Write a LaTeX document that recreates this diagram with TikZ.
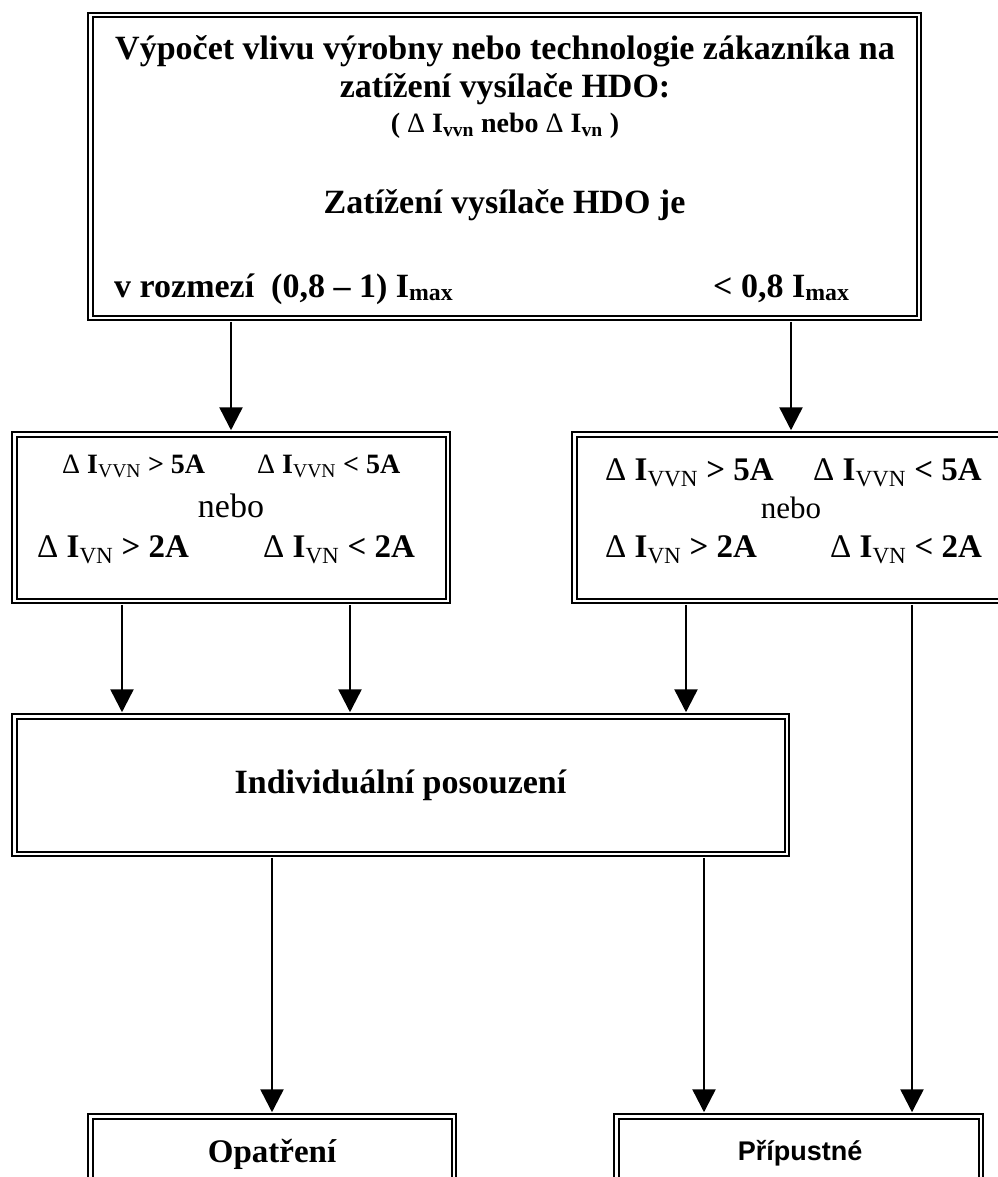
\documentclass[tikz,border=0pt]{standalone}
\usepackage{fontspec}
\setmainfont{Liberation Serif}
\newfontfamily\arialfont{Liberation Sans}
\usetikzlibrary{arrows.meta}
\tikzset{
	box/.style={draw, double, line width=2pt, double distance=2.5pt, inner sep=0pt},
	txt/.style={anchor=base, inner sep=0pt, font=\fontsize{#1}{#1}\selectfont\bfseries},
	word/.style={anchor=base, inner sep=0pt, font=\fontsize{#1}{#1}\selectfont},
	flow/.style={-{Triangle[length=23pt,width=23pt]}, line width=2.5pt, shorten >=3pt, shorten <=3pt}
}
\newcommand{\dlt}{{\mdseries Δ}}
\newcommand{\idxsub}[1]{\textsubscript{\mdseries #1}}

\begin{document}
\begin{tikzpicture}[x=1pt, y=-1pt]

	\useasboundingbox (0,0) rectangle (997,1177);

	% boxes
	\node[box, minimum width=828.5pt, minimum height=302.5pt] (calc) at (504.5,166.5) {};
	\node[box, minimum width=433.5pt, minimum height=166.5pt] (high) at (231,517.5) {};
	\node[box, minimum width=433.5pt, minimum height=166.5pt] (low) at (791,517.5) {};
	\node[box, minimum width=772.5pt, minimum height=137.5pt] (indiv) at (400.5,785) {};
	\node[box, minimum width=363.5pt, minimum height=71.5pt] (measure) at (272,1152) {};
	\node[box, minimum width=364.5pt, minimum height=71.5pt] (allowed) at (798.5,1152) {};

	% texts of the first box
	\node[txt=34] (title1) at (505,60) {Výpočet vlivu výrobny nebo technologie zákazníka na};
	\node[txt=34] (title2) at (505,98) {zatížení vysílače HDO:};
	\node[txt=28] (title3) at (505,133) {( \dlt{} I\textsubscript{vvn} nebo \dlt{} I\textsubscript{vn} )};
	\node[txt=34] (load) at (504.5,213) {Zatížení vysílače HDO je};
	\node[txt=34, anchor=base west] (range) at (114,297) {v rozmezí\ \ (0,8 – 1) I\textsubscript{max}};
	\node[txt=34, anchor=base west] (under) at (713,297) {< 0,8 I\textsubscript{max}};

	\node[txt=28, anchor=base west] (hvvn1) at (62,473) {\dlt{} I\idxsub{VVN} > 5A};
	\node[txt=28, anchor=base west] (hvvn2) at (257,473) {\dlt{} I\idxsub{VVN} < 5A};
	\node[word=34] (hor) at (231,517) {nebo};
	\node[txt=33, anchor=base west] (hvn1) at (37,557) {\dlt{} I\idxsub{VN} > 2A};
	\node[txt=33, anchor=base west] (hvn2) at (263,557) {\dlt{} I\idxsub{VN} < 2A};

	\node[txt=33, anchor=base west] (lvvn1) at (605,480) {\dlt{} I\idxsub{VVN} > 5A};
	\node[txt=33, anchor=base west] (lvvn2) at (813,480) {\dlt{} I\idxsub{VVN} < 5A};
	\node[word=31] (lor) at (791,518) {nebo};
	\node[txt=33, anchor=base west] (lvn1) at (605,557) {\dlt{} I\idxsub{VN} > 2A};
	\node[txt=33, anchor=base west] (lvn2) at (830,557) {\dlt{} I\idxsub{VN} < 2A};

	\node[txt=34] (indivtext) at (400.5,793) {Individuální posouzení};
	\node[txt=33] (measuretext) at (272,1162) {Opatření};
	\node[txt=27, font=\arialfont\fontsize{27}{27}\selectfont\bfseries] (allowedtext) at (800,1160) {Přípustné};

	\coordinate (h1) at ([xshift=-109pt]high.south);
	\coordinate (h2) at ([xshift=119pt]high.south);
	\coordinate (l1) at ([xshift=-105pt]low.south);
	\coordinate (l2) at ([xshift=121pt]low.south);
	\coordinate (a1) at ([xshift=-94.5pt]allowed.north);

	\draw[flow] (calc.south -| high.north) -- (high.north);
	\draw[flow] (calc.south -| low.north) -- (low.north);

	\draw[flow] (h1) -- (h1 |- indiv.north);
	\draw[flow] (h2) -- (h2 |- indiv.north);
	\draw[flow] (l1) -- (l1 |- indiv.north);

	% results
	\draw[flow] (indiv.south -| measure.north) -- (measure.north);
	\draw[flow] (indiv.south -| a1) -- (a1);
	\draw[flow] (l2) -- (l2 |- allowed.north);

\end{tikzpicture}
\end{document}
